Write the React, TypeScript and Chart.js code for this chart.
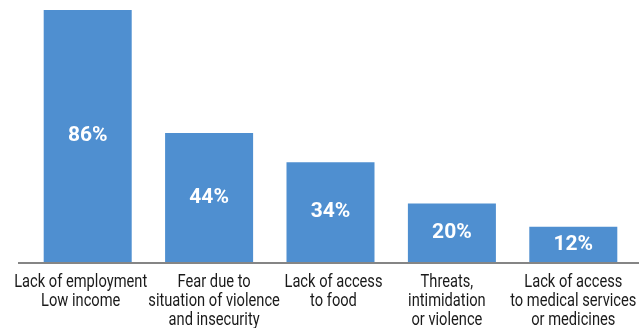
import React, { useEffect, useRef } from "react";
import { Chart, registerables } from "chart.js";

Chart.register(...registerables);

const categories: string[][] = [
  ["Lack of employment", "Low income"],
  ["Fear due to", "situation of violence", "and insecurity"],
  ["Lack of access", "to food"],
  ["Threats,", "intimidation", "or violence"],
  ["Lack of access", "to medical services", "or medicines"],
];
const values: number[] = [86, 44, 34, 20, 12];

const BAR_COLOR = "#4F8FD0";

// small horizontal nudges of the category labels, as in the reference
const LABEL_NUDGE = [-7, 5, 3, -5, 0];

const valueLabels = {
  id: "valueLabels",
  afterDatasetsDraw(chart: any) {
    const ctx = chart.ctx;
    const meta = chart.getDatasetMeta(0);
    ctx.save();
    ctx.fillStyle = "#ffffff";
    ctx.font = "bold 21px Roboto, sans-serif";
    ctx.textAlign = "center";
    ctx.textBaseline = "middle";
    meta.data.forEach((bar: any, i: number) => {
      const y = (bar.y + bar.base) / 2;
      ctx.fillText(values[i] + "%", bar.x, y);
    });
    ctx.restore();
  },
};

const categoryLabels = {
  id: "categoryLabels",
  afterDraw(chart: any) {
    const ctx = chart.ctx;
    const xScale = chart.scales.x;
    const bottom = chart.chartArea.bottom;
    ctx.save();
    ctx.font = "18px Roboto, sans-serif";
    ctx.fillStyle = "#1a1a1a";
    ctx.textAlign = "center";
    ctx.textBaseline = "alphabetic";
    const ref = ctx.measureText("Lack of employment").width;
    const sx = 133 / ref;
    categories.forEach((lines, i) => {
      const cx = xScale.getPixelForValue(i) + LABEL_NUDGE[i];
      lines.forEach((line, j) => {
        ctx.save();
        ctx.translate(cx, bottom + 25 + j * 19);
        ctx.scale(sx, 1);
        ctx.fillText(line, 0, 0);
        ctx.restore();
      });
    });
    ctx.restore();
  },
};

const baseline = {
  id: "baseline",
  afterDatasetsDraw(chart: any) {
    const ctx = chart.ctx;
    const y = chart.chartArea.bottom;
    ctx.save();
    ctx.strokeStyle = "#858585";
    ctx.lineWidth = 2;
    ctx.beginPath();
    ctx.moveTo(18, y + 1);
    ctx.lineTo(chart.width, y + 1);
    ctx.stroke();
    ctx.restore();
  },
};

export default function App() {
  const ref = useRef<HTMLCanvasElement>(null);
  useEffect(() => {
    if (!ref.current) return;
    const chart = new Chart(ref.current, {
      type: "bar",
      data: {
        labels: categories.map((l) => l.join(" ")),
        datasets: [
          {
            data: values,
            backgroundColor: BAR_COLOR,
            barPercentage: 0.725,
            categoryPercentage: 1,
          },
        ],
      },
      options: {
        animation: false,
        responsive: false,
        maintainAspectRatio: false,
        layout: { padding: { left: 27, right: 5, top: 10, bottom: 0 } },
        plugins: { legend: { display: false }, tooltip: { enabled: false } },
        scales: {
          x: {
            grid: { display: false, drawTicks: false },
            border: { display: false },
            ticks: { display: false },
            afterFit: (s: any) => {
              s.height = 66;
            },
          },
          y: {
            display: false,
            min: 0,
            max: 86,
          },
        },
      },
      plugins: [valueLabels, baseline, categoryLabels],
    });
    return () => chart.destroy();
  }, []);
  return (
    <div style={{ position: "fixed", left: 0, top: 0, width: 639, height: 328, background: "#fff" }}>
      <canvas ref={ref} width={639} height={328} style={{ width: 639, height: 328 }} />
    </div>
  );
}
